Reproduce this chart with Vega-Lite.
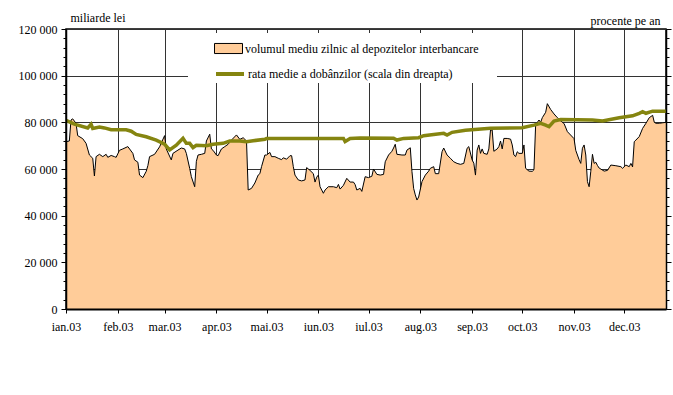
{
  "$schema": "https://vega.github.io/schema/vega-lite/v6.json",
  "width": 600,
  "height": 280,
  "autosize": {"type": "none"},
  "padding": {"left": 66, "top": 29, "right": 7, "bottom": 86},
  "background": "white",
  "config": {
    "font": "Liberation Serif",
    "view": {"stroke": "black", "strokeWidth": 1.5},
    "axis": {"labelFont": "Liberation Serif", "labelFontSize": 12, "labelColor": "black", "titleFont": "Liberation Serif", "titleFontSize": 12, "titleFontWeight": "normal", "titleColor": "black", "domainColor": "black", "tickColor": "black", "gridColor": "#333333", "gridWidth": 1},
    "legend": {"labelFont": "Liberation Serif", "labelFontSize": 12, "labelColor": "black"}
  },
  "datasets": {
    "vol": [
      {"data": "2003-01-01", "volum": 71700}, {"data": "2003-01-03", "volum": 72000}, {"data": "2003-01-04", "volum": 81000}, {"data": "2003-01-05", "volum": 81500}, {"data": "2003-01-07", "volum": 79600}, {"data": "2003-01-08", "volum": 74300}, {"data": "2003-01-11", "volum": 73000}, {"data": "2003-01-13", "volum": 71000}, {"data": "2003-01-15", "volum": 66000}, {"data": "2003-01-17", "volum": 64600}, {"data": "2003-01-18", "volum": 57000}, {"data": "2003-01-19", "volum": 65300}, {"data": "2003-01-21", "volum": 66300}, {"data": "2003-01-23", "volum": 65300}, {"data": "2003-01-25", "volum": 66300}, {"data": "2003-01-26", "volum": 65000}, {"data": "2003-01-28", "volum": 65800}, {"data": "2003-01-30", "volum": 65300}, {"data": "2003-01-31", "volum": 65000},
      {"data": "2003-02-02", "volum": 68000}, {"data": "2003-02-04", "volum": 68600}, {"data": "2003-02-07", "volum": 69600}, {"data": "2003-02-10", "volum": 66700}, {"data": "2003-02-11", "volum": 63900}, {"data": "2003-02-13", "volum": 62900}, {"data": "2003-02-14", "volum": 57400}, {"data": "2003-02-16", "volum": 56300}, {"data": "2003-02-18", "volum": 59000}, {"data": "2003-02-19", "volum": 61500}, {"data": "2003-02-20", "volum": 65300}, {"data": "2003-02-23", "volum": 66300}, {"data": "2003-02-26", "volum": 69500},
      {"data": "2003-03-01", "volum": 74300}, {"data": "2003-03-02", "volum": 68600}, {"data": "2003-03-05", "volum": 63900}, {"data": "2003-03-06", "volum": 66700}, {"data": "2003-03-09", "volum": 68100}, {"data": "2003-03-11", "volum": 69000}, {"data": "2003-03-13", "volum": 68600}, {"data": "2003-03-14", "volum": 66700}, {"data": "2003-03-16", "volum": 60300}, {"data": "2003-03-17", "volum": 56700}, {"data": "2003-03-19", "volum": 52400}, {"data": "2003-03-20", "volum": 63300}, {"data": "2003-03-21", "volum": 66000}, {"data": "2003-03-23", "volum": 66300}, {"data": "2003-03-25", "volum": 66700}, {"data": "2003-03-26", "volum": 72000}, {"data": "2003-03-28", "volum": 74900}, {"data": "2003-03-29", "volum": 68600}, {"data": "2003-03-30", "volum": 68000},
      {"data": "2003-04-01", "volum": 66000}, {"data": "2003-04-02", "volum": 65700}, {"data": "2003-04-04", "volum": 68600}, {"data": "2003-04-06", "volum": 69600}, {"data": "2003-04-08", "volum": 70600}, {"data": "2003-04-10", "volum": 72400}, {"data": "2003-04-13", "volum": 74600}, {"data": "2003-04-15", "volum": 72700}, {"data": "2003-04-17", "volum": 73400}, {"data": "2003-04-19", "volum": 72000}, {"data": "2003-04-20", "volum": 51000}, {"data": "2003-04-22", "volum": 51700}, {"data": "2003-04-24", "volum": 54000}, {"data": "2003-04-26", "volum": 57400}, {"data": "2003-04-27", "volum": 58000}, {"data": "2003-04-28", "volum": 61000}, {"data": "2003-04-30", "volum": 66000},
      {"data": "2003-05-01", "volum": 66000}, {"data": "2003-05-03", "volum": 67100}, {"data": "2003-05-04", "volum": 65300}, {"data": "2003-05-06", "volum": 65300}, {"data": "2003-05-08", "volum": 64600}, {"data": "2003-05-10", "volum": 64000}, {"data": "2003-05-11", "volum": 64800}, {"data": "2003-05-13", "volum": 64200}, {"data": "2003-05-15", "volum": 65700}, {"data": "2003-05-16", "volum": 65700}, {"data": "2003-05-17", "volum": 61000}, {"data": "2003-05-18", "volum": 57400}, {"data": "2003-05-20", "volum": 55300}, {"data": "2003-05-22", "volum": 54900}, {"data": "2003-05-24", "volum": 55300}, {"data": "2003-05-25", "volum": 60600}, {"data": "2003-05-27", "volum": 59400}, {"data": "2003-05-29", "volum": 58000}, {"data": "2003-05-30", "volum": 54400}, {"data": "2003-05-31", "volum": 56500},
      {"data": "2003-06-01", "volum": 57400}, {"data": "2003-06-02", "volum": 52400}, {"data": "2003-06-04", "volum": 49600}, {"data": "2003-06-05", "volum": 51000}, {"data": "2003-06-07", "volum": 52400}, {"data": "2003-06-10", "volum": 52400}, {"data": "2003-06-12", "volum": 52000}, {"data": "2003-06-13", "volum": 53400}, {"data": "2003-06-14", "volum": 51400}, {"data": "2003-06-16", "volum": 53000}, {"data": "2003-06-18", "volum": 56000}, {"data": "2003-06-20", "volum": 54400}, {"data": "2003-06-22", "volum": 54400}, {"data": "2003-06-23", "volum": 53300}, {"data": "2003-06-24", "volum": 51000}, {"data": "2003-06-26", "volum": 51700}, {"data": "2003-06-27", "volum": 50400}, {"data": "2003-06-29", "volum": 56700},
      {"data": "2003-07-01", "volum": 56300}, {"data": "2003-07-03", "volum": 56900}, {"data": "2003-07-04", "volum": 60000}, {"data": "2003-07-06", "volum": 57700}, {"data": "2003-07-08", "volum": 57400}, {"data": "2003-07-10", "volum": 57700}, {"data": "2003-07-11", "volum": 63100}, {"data": "2003-07-13", "volum": 66000}, {"data": "2003-07-15", "volum": 67600}, {"data": "2003-07-16", "volum": 69000}, {"data": "2003-07-17", "volum": 70600}, {"data": "2003-07-18", "volum": 66300}, {"data": "2003-07-21", "volum": 66000}, {"data": "2003-07-23", "volum": 66000}, {"data": "2003-07-24", "volum": 68100}, {"data": "2003-07-26", "volum": 69100}, {"data": "2003-07-27", "volum": 58900}, {"data": "2003-07-28", "volum": 51700}, {"data": "2003-07-29", "volum": 48900}, {"data": "2003-07-30", "volum": 46700}, {"data": "2003-07-31", "volum": 48000},
      {"data": "2003-08-02", "volum": 54600}, {"data": "2003-08-04", "volum": 57400}, {"data": "2003-08-06", "volum": 59100}, {"data": "2003-08-07", "volum": 60300}, {"data": "2003-08-09", "volum": 61000}, {"data": "2003-08-10", "volum": 58000}, {"data": "2003-08-12", "volum": 58000}, {"data": "2003-08-14", "volum": 67400}, {"data": "2003-08-15", "volum": 69000}, {"data": "2003-08-17", "volum": 66000}, {"data": "2003-08-19", "volum": 64600}, {"data": "2003-08-21", "volum": 63100}, {"data": "2003-08-23", "volum": 62400}, {"data": "2003-08-25", "volum": 62000}, {"data": "2003-08-27", "volum": 62400}, {"data": "2003-08-29", "volum": 68900}, {"data": "2003-08-30", "volum": 69600},
      {"data": "2003-09-01", "volum": 63900}, {"data": "2003-09-02", "volum": 62500}, {"data": "2003-09-03", "volum": 57400}, {"data": "2003-09-04", "volum": 68100}, {"data": "2003-09-05", "volum": 70300}, {"data": "2003-09-06", "volum": 66700}, {"data": "2003-09-07", "volum": 68600}, {"data": "2003-09-08", "volum": 66700}, {"data": "2003-09-10", "volum": 66300}, {"data": "2003-09-11", "volum": 68600}, {"data": "2003-09-12", "volum": 76700}, {"data": "2003-09-13", "volum": 76700}, {"data": "2003-09-14", "volum": 67600}, {"data": "2003-09-16", "volum": 68600}, {"data": "2003-09-17", "volum": 69600}, {"data": "2003-09-18", "volum": 72000}, {"data": "2003-09-19", "volum": 68600}, {"data": "2003-09-20", "volum": 73100}, {"data": "2003-09-22", "volum": 73100}, {"data": "2003-09-24", "volum": 72800}, {"data": "2003-09-25", "volum": 70300}, {"data": "2003-09-26", "volum": 66000}, {"data": "2003-09-27", "volum": 65300}, {"data": "2003-09-28", "volum": 67400}, {"data": "2003-09-29", "volum": 66700},
      {"data": "2003-10-01", "volum": 66700}, {"data": "2003-10-02", "volum": 70300}, {"data": "2003-10-03", "volum": 60300}, {"data": "2003-10-05", "volum": 59100}, {"data": "2003-10-07", "volum": 59000}, {"data": "2003-10-08", "volum": 59700}, {"data": "2003-10-09", "volum": 78900}, {"data": "2003-10-11", "volum": 81000}, {"data": "2003-10-12", "volum": 80000}, {"data": "2003-10-13", "volum": 82000}, {"data": "2003-10-15", "volum": 84300}, {"data": "2003-10-16", "volum": 88000}, {"data": "2003-10-18", "volum": 85500}, {"data": "2003-10-20", "volum": 83600}, {"data": "2003-10-22", "volum": 82000}, {"data": "2003-10-24", "volum": 80600}, {"data": "2003-10-26", "volum": 79500}, {"data": "2003-10-28", "volum": 76000},
      {"data": "2003-11-01", "volum": 73000}, {"data": "2003-11-02", "volum": 68000}, {"data": "2003-11-04", "volum": 64000}, {"data": "2003-11-05", "volum": 62400}, {"data": "2003-11-06", "volum": 68900}, {"data": "2003-11-07", "volum": 70300}, {"data": "2003-11-08", "volum": 66000}, {"data": "2003-11-09", "volum": 54600}, {"data": "2003-11-10", "volum": 52400}, {"data": "2003-11-11", "volum": 59000}, {"data": "2003-11-12", "volum": 66300}, {"data": "2003-11-13", "volum": 62400}, {"data": "2003-11-14", "volum": 62900}, {"data": "2003-11-15", "volum": 61500}, {"data": "2003-11-16", "volum": 60400}, {"data": "2003-11-19", "volum": 59100}, {"data": "2003-11-21", "volum": 59400}, {"data": "2003-11-23", "volum": 61700}, {"data": "2003-11-26", "volum": 61400}, {"data": "2003-11-29", "volum": 61000}, {"data": "2003-11-30", "volum": 60300},
      {"data": "2003-12-02", "volum": 61700}, {"data": "2003-12-04", "volum": 61000}, {"data": "2003-12-05", "volum": 62400}, {"data": "2003-12-06", "volum": 60900}, {"data": "2003-12-07", "volum": 71700}, {"data": "2003-12-08", "volum": 72400}, {"data": "2003-12-10", "volum": 73900}, {"data": "2003-12-12", "volum": 77400}, {"data": "2003-12-14", "volum": 79600}, {"data": "2003-12-16", "volum": 82000}, {"data": "2003-12-18", "volum": 83000}, {"data": "2003-12-19", "volum": 80000}, {"data": "2003-12-20", "volum": 79600}, {"data": "2003-12-22", "volum": 79600}, {"data": "2003-12-24", "volum": 79800}, {"data": "2003-12-26", "volum": 80000}
    ],
    "rata": [
      {"data": "2003-01-01", "rata": 20.2}, {"data": "2003-01-06", "rata": 19.8}, {"data": "2003-01-14", "rata": 19.4}, {"data": "2003-01-16", "rata": 19.8}, {"data": "2003-01-17", "rata": 19.35}, {"data": "2003-01-21", "rata": 19.5}, {"data": "2003-01-24", "rata": 19.4}, {"data": "2003-01-28", "rata": 19.2}, {"data": "2003-02-02", "rata": 19.2}, {"data": "2003-02-06", "rata": 19.2}, {"data": "2003-02-09", "rata": 19.05}, {"data": "2003-02-12", "rata": 18.7}, {"data": "2003-02-18", "rata": 18.45}, {"data": "2003-02-24", "rata": 18.1}, {"data": "2003-03-01", "rata": 17.65}, {"data": "2003-03-04", "rata": 17.05}, {"data": "2003-03-08", "rata": 17.55}, {"data": "2003-03-12", "rata": 18.3}, {"data": "2003-03-14", "rata": 17.75}, {"data": "2003-03-16", "rata": 17.75}, {"data": "2003-03-18", "rata": 17.3}, {"data": "2003-03-20", "rata": 17.55}, {"data": "2003-03-26", "rata": 17.5}, {"data": "2003-03-30", "rata": 17.65}, {"data": "2003-04-05", "rata": 17.75}, {"data": "2003-04-09", "rata": 18.0}, {"data": "2003-04-15", "rata": 18.0}, {"data": "2003-04-19", "rata": 17.93}, {"data": "2003-04-23", "rata": 18.03}, {"data": "2003-04-30", "rata": 18.18}, {"data": "2003-05-01", "rata": 18.28}, {"data": "2003-06-16", "rata": 18.28}, {"data": "2003-06-17", "rata": 17.95}, {"data": "2003-06-20", "rata": 18.28}, {"data": "2003-06-26", "rata": 18.33}, {"data": "2003-07-16", "rata": 18.3}, {"data": "2003-07-18", "rata": 18.1}, {"data": "2003-07-22", "rata": 18.28}, {"data": "2003-07-31", "rata": 18.35}, {"data": "2003-08-03", "rata": 18.57}, {"data": "2003-08-09", "rata": 18.7}, {"data": "2003-08-15", "rata": 18.82}, {"data": "2003-08-17", "rata": 18.64}, {"data": "2003-08-20", "rata": 18.93}, {"data": "2003-08-28", "rata": 19.15}, {"data": "2003-09-12", "rata": 19.36}, {"data": "2003-10-01", "rata": 19.43}, {"data": "2003-10-08", "rata": 19.7}, {"data": "2003-10-12", "rata": 19.9}, {"data": "2003-10-15", "rata": 19.7}, {"data": "2003-10-17", "rata": 19.53}, {"data": "2003-10-20", "rata": 20.14}, {"data": "2003-10-24", "rata": 20.3}, {"data": "2003-11-12", "rata": 20.25}, {"data": "2003-11-18", "rata": 20.15}, {"data": "2003-11-28", "rata": 20.5}, {"data": "2003-12-06", "rata": 20.7}, {"data": "2003-12-10", "rata": 20.97}, {"data": "2003-12-12", "rata": 21.14}, {"data": "2003-12-14", "rata": 20.97}, {"data": "2003-12-18", "rata": 21.2}, {"data": "2003-12-26", "rata": 21.2}
    ]
  },
  "layer": [
    {
      "layer": [
        {
          "data": {"name": "vol"},
          "mark": {"type": "area", "interpolate": "linear"},
          "encoding": {
            "x": {
              "field": "data", "type": "temporal",
              "scale": {"type": "utc", "domain": [{"year": 2003, "month": 1, "date": 1, "utc": true}, {"year": 2003, "month": 12, "date": 26, "utc": true}]},
              "axis": {
                "orient": "bottom", "title": null, "grid": true, "domain": false, "ticks": false, "labels": false, "zindex": 0,
                "values": [
                  {"year": 2003, "month": 1, "date": 1, "utc": true}, {"year": 2003, "month": 2, "date": 1, "utc": true}, {"year": 2003, "month": 3, "date": 1, "utc": true}, {"year": 2003, "month": 4, "date": 1, "utc": true}, {"year": 2003, "month": 5, "date": 1, "utc": true}, {"year": 2003, "month": 6, "date": 1, "utc": true}, {"year": 2003, "month": 7, "date": 1, "utc": true}, {"year": 2003, "month": 8, "date": 1, "utc": true}, {"year": 2003, "month": 9, "date": 1, "utc": true}, {"year": 2003, "month": 10, "date": 1, "utc": true}, {"year": 2003, "month": 11, "date": 1, "utc": true}, {"year": 2003, "month": 12, "date": 1, "utc": true}
                ]
              }
            },
            "y": {
              "field": "volum", "type": "quantitative",
              "scale": {"domain": [0, 120000], "nice": false},
              "axis": {
                "orient": "left", "title": null, "grid": true, "domain": false, "ticks": false, "labels": false, "zindex": 0,
                "values": [0, 20000, 40000, 60000, 80000, 100000, 120000]
              }
            },
            "fill": {
              "datum": "volumul mediu zilnic al depozitelor interbancare",
              "scale": {"range": ["#FFCC99"]},
              "legend": {
                "title": null, "orient": "none", "legendX": 122, "legendY": 4, "padding": 1,
                "symbolOffset": 25, "symbolType": "M-1,-0.36H1V0.36H-1Z", "symbolSize": 784,
                "symbolStrokeColor": "black", "symbolStrokeWidth": 1, "labelOffset": 2, "labelLimit": 400,
                "fillColor": "white"
              }
            }
          }
        },
        {
          "data": {"name": "vol"},
          "mark": {"type": "line", "color": "black", "strokeWidth": 1, "interpolate": "linear"},
          "encoding": {
            "x": {
              "field": "data", "type": "temporal",
              "axis": {
                "orient": "bottom", "title": null, "grid": true, "domain": false, "ticks": false, "labels": false, "zindex": 0,
                "values": [
                  {"year": 2003, "month": 1, "date": 1, "utc": true}, {"year": 2003, "month": 2, "date": 1, "utc": true}, {"year": 2003, "month": 3, "date": 1, "utc": true}, {"year": 2003, "month": 4, "date": 1, "utc": true}, {"year": 2003, "month": 5, "date": 1, "utc": true}, {"year": 2003, "month": 6, "date": 1, "utc": true}, {"year": 2003, "month": 7, "date": 1, "utc": true}, {"year": 2003, "month": 8, "date": 1, "utc": true}, {"year": 2003, "month": 9, "date": 1, "utc": true}, {"year": 2003, "month": 10, "date": 1, "utc": true}, {"year": 2003, "month": 11, "date": 1, "utc": true}, {"year": 2003, "month": 12, "date": 1, "utc": true}
                ]
              }
            },
            "y": {
              "field": "volum", "type": "quantitative",
              "axis": {
                "orient": "left",
                "values": [0, 4000, 8000, 12000, 16000, 20000, 24000, 28000, 32000, 36000, 40000, 44000, 48000, 52000, 56000, 60000, 64000, 68000, 72000, 76000, 80000, 84000, 88000, 92000, 96000, 100000, 104000, 108000, 112000, 116000, 120000],
                "labelExpr": "datum.value % 20000 === 0 ? replace(format(datum.value, ','), ',', ' ') : ''",
                "labelOverlap": false,
                "labelPadding": 4,
                "title": "miliarde lei",
                "titleAngle": 0,
                "titleAlign": "left",
                "titleBaseline": "middle",
                "titleX": 4,
                "titleY": -12,
                "grid": false,
                "tickSize": {"condition": {"test": "datum.value % 20000 === 0", "value": 5}, "value": 3},
                "domainWidth": 1.5,
                "zindex": 1
              }
            }
          }
        }
      ],
      "resolve": {"axis": {"y": "independent"}}
    },
    {
      "data": {"name": "rata"},
      "mark": {"type": "line", "strokeWidth": 3.5},
      "encoding": {
        "x": {
          "field": "data", "type": "temporal",
          "axis": {
            "orient": "bottom",
            "title": null,
            "values": [
              {"year": 2003, "month": 1, "date": 1, "utc": true}, {"year": 2003, "month": 2, "date": 1, "utc": true}, {"year": 2003, "month": 3, "date": 1, "utc": true}, {"year": 2003, "month": 4, "date": 1, "utc": true}, {"year": 2003, "month": 5, "date": 1, "utc": true}, {"year": 2003, "month": 6, "date": 1, "utc": true}, {"year": 2003, "month": 7, "date": 1, "utc": true}, {"year": 2003, "month": 8, "date": 1, "utc": true}, {"year": 2003, "month": 9, "date": 1, "utc": true}, {"year": 2003, "month": 10, "date": 1, "utc": true}, {"year": 2003, "month": 11, "date": 1, "utc": true}, {"year": 2003, "month": 12, "date": 1, "utc": true}
            ],
            "labelExpr": "['ian','feb','mar','apr','mai','iun','iul','aug','sep','oct','nov','dec'][utcmonth(datum.value)] + '.03'",
            "grid": false,
            "tickSize": 4,
            "labelPadding": 8,
            "domainWidth": 2,
            "labelFlush": false,
            "labelOverlap": false,
            "zindex": 1
          }
        },
        "y": {
          "field": "rata", "type": "quantitative",
          "scale": {"domain": [0, 30], "nice": false},
          "axis": {
            "orient": "right",
            "values": [0, 1, 2, 3, 4, 5, 6, 7, 8, 9, 10, 11, 12, 13, 14, 15, 16, 17, 18, 19, 20, 21, 22, 23, 24, 25, 26, 27, 28, 29, 30],
            "labels": false,
            "title": "procente pe an",
            "titleAngle": 0,
            "titleAlign": "right",
            "titleBaseline": "middle",
            "titleX": -6,
            "titleY": -9,
            "grid": false,
            "tickSize": {"condition": {"test": "datum.value % 5 === 0", "value": 5}, "value": 3},
            "domainWidth": 1.5,
            "zindex": 1
          }
        },
        "stroke": {
          "datum": "rata medie a dobânzilor (scala din dreapta)",
          "scale": {"range": ["#858510"]},
          "legend": {
            "title": "\u00a0", "titleOrient": "right", "titlePadding": 43, "titleFontSize": 12,
            "orient": "none", "legendX": 122, "legendY": 28, "padding": 1,
            "symbolOffset": 25, "symbolType": "stroke", "symbolSize": 784, "symbolStrokeWidth": 4,
            "labelOffset": 2, "labelLimit": 400, "fillColor": "white"
          }
        }
      }
    }
  ],
  "resolve": {"scale": {"y": "independent"}, "axis": {"x": "independent", "y": "independent"}}
}
